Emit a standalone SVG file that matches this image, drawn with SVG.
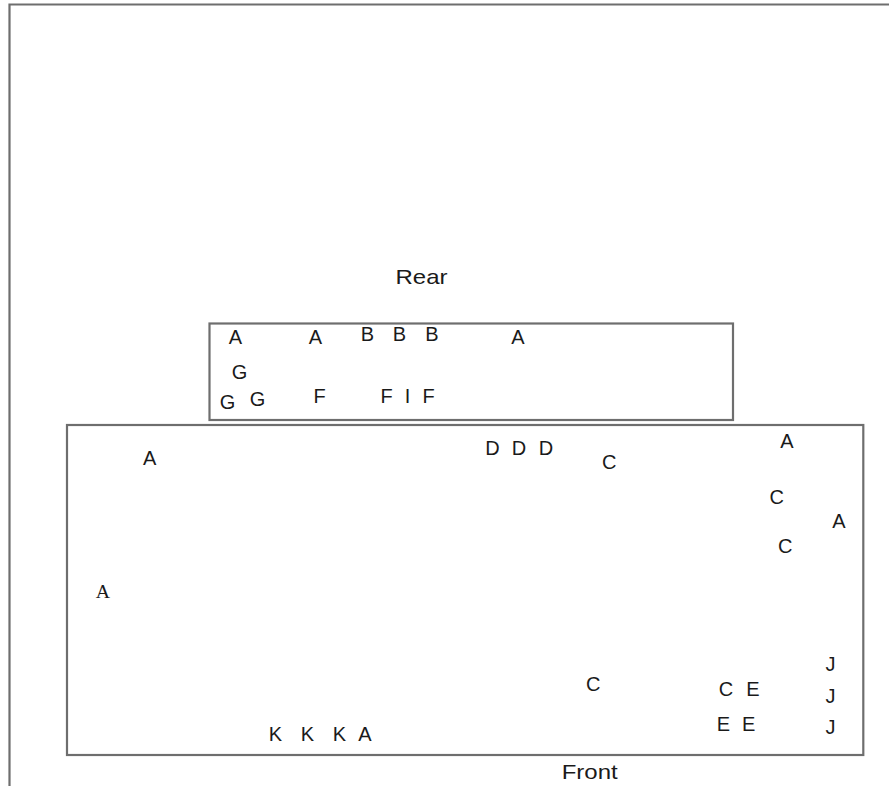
<svg xmlns="http://www.w3.org/2000/svg" width="889" height="786" viewBox="0 0 889 786">
<style>
.frame{fill:none;stroke:#6e6e6e;stroke-width:2.2}
.t{font-family:"Liberation Sans",Arial,sans-serif;font-size:20px;fill:#1a1a1a;text-anchor:middle}
.m{font-family:"Liberation Serif","Times New Roman",serif;font-size:18px;fill:#1a1a1a;text-anchor:middle}
</style>
<rect width="889" height="786" fill="#fff"/>
<g id="outer-frame">
<polyline class="frame" points="9.5,786 9.5,4.5 889,4.5"/>
</g>
<g id="rear">
<rect class="frame" x="209.5" y="323.5" width="523.5" height="96.5"/>
<text class="t" transform="translate(421.5,284) scale(1.2,1)">Rear</text>
<text class="t" x="235.5" y="344.3">A</text>
<text class="t" x="315.5" y="344.3">A</text>
<text class="t" x="367.5" y="341">B</text>
<text class="t" x="399.5" y="341">B</text>
<text class="t" x="432" y="341">B</text>
<text class="t" x="518" y="344.3">A</text>
<text class="t" x="239.5" y="379.3">G</text>
<text class="t" x="227.5" y="409">G</text>
<text class="t" x="257.5" y="406">G</text>
<text class="t" x="319.7" y="403">F</text>
<text class="t" x="386.5" y="403">F</text>
<text class="t" x="407.5" y="403">I</text>
<text class="t" x="428.5" y="403">F</text>
</g>
<g id="front">
<rect class="frame" x="67" y="425" width="796.3" height="330"/>
<text class="t" transform="translate(589.7,779) scale(1.2,1)">Front</text>
<text class="t" x="149.7" y="465">A</text>
<text class="m" transform="translate(103,598.3) scale(1.1,1)">A</text>
<text class="t" x="492.5" y="455">D</text>
<text class="t" x="519" y="455">D</text>
<text class="t" x="546" y="455">D</text>
<text class="t" x="609.3" y="469">C</text>
<text class="t" x="787" y="447.7">A</text>
<text class="t" x="776.7" y="504.3">C</text>
<text class="t" x="839" y="528.3">A</text>
<text class="t" x="785.3" y="552.7">C</text>
<text class="t" x="593.3" y="691">C</text>
<text class="t" x="726" y="695.7">C</text>
<text class="t" x="753" y="695.7">E</text>
<text class="t" x="723.5" y="731">E</text>
<text class="t" x="748.7" y="731">E</text>
<text class="t" x="830.5" y="671">J</text>
<text class="t" x="830.5" y="703.3">J</text>
<text class="t" x="830.5" y="734.3">J</text>
<text class="t" x="275.5" y="741">K</text>
<text class="t" x="307.5" y="741">K</text>
<text class="t" x="339.3" y="741">K</text>
<text class="t" x="365" y="741">A</text>
</g>
</svg>
